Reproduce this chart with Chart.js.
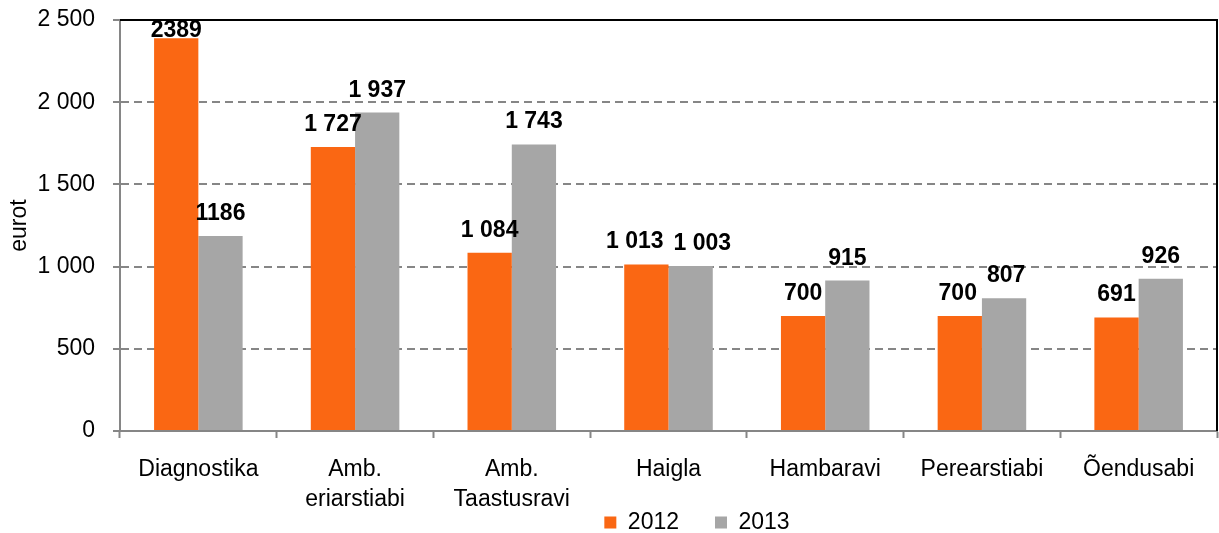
<!DOCTYPE html>
<html><head><meta charset="utf-8">
<script src="https://cdn.jsdelivr.net/npm/chart.js@4/dist/chart.umd.min.js"></script>
<style>html,body{margin:0;padding:0;background:#fff}#wrap{width:1219px;height:533px;position:relative}</style>
</head><body><div id="wrap"><canvas id="c" width="1219" height="533"></canvas></div>
<script>
const categories = ['Diagnostika', ['Amb.', 'eriarstiabi'], ['Amb.', 'Taastusravi'], 'Haigla', 'Hambaravi', 'Perearstiabi', 'Õendusabi'];
const seriesNames = ['2012', '2013'];
const values2012 = [2389, 1727, 1084, 1013, 700, 700, 691];
const values2013 = [1186, 1937, 1743, 1003, 915, 807, 926];
const labels2012 = ['2389', '1 727', '1 084', '1 013', '700', '700', '691'];
const labels2013 = ['1186', '1 937', '1 743', '1 003', '915', '807', '926'];
const yMin = 0, yMax = 2500, yStep = 500;
const axisTitle = 'eurot';

const FONT = '"Liberation Sans", Arial, sans-serif';
const FS = 23;
const GRAY = '#868686';
const ORANGE = '#FA6713';
const BARGRAY = '#A6A6A6';
const CANVAS_H = 533;
const PAD_BOTTOM = -80;
const PLOT_BOTTOM = 431;
const LEGEND_TEXT_TOP = 511;
const LEGEND_CENTER_X = 697;

function fmt(v) { return String(v).replace(/\B(?=(\d{3})+(?!\d))/g, ' '); }

const dataLabelPlugin = {
  id: 'dataLabels',
  afterDatasetsDraw(chart) {
    const ctx = chart.ctx;
    const area = chart.chartArea;
    const texts = [labels2012, labels2013];
    ctx.save();
    ctx.font = 'bold ' + FS + 'px ' + FONT;
    ctx.fillStyle = '#000';
    ctx.textAlign = 'center';
    ctx.textBaseline = 'alphabetic';
    const n = categories.length;
    for (let i = 0; i < n; i++) {
      const items = [];
      chart.data.datasets.forEach((ds, d) => {
        const el = chart.getDatasetMeta(d).data[i];
        const t = texts[d][i];
        const w = ctx.measureText(t).width;
        const base = Math.max(el.y - 16, area.top + 17);
        items.push({ x: el.x, y: base, w, t });
      });
      if (items.length === 2) {
        const a = items[0], b = items[1];
        if (Math.abs(a.y - b.y) < FS) {
          const overlap = (a.x + a.w / 2 + 10) - (b.x - b.w / 2);
          if (overlap > 0) { a.x -= overlap / 2; b.x += overlap / 2; }
        }
      }
      items.forEach(it => ctx.fillText(it.t, it.x, it.y));
    }
    ctx.restore();
  }
};

const framePlugin = {
  id: 'frame',
  afterDraw(chart) {
    const a = chart.chartArea;
    const ctx = chart.ctx;
    ctx.save();
    ctx.strokeStyle = '#000';
    ctx.lineWidth = 2;
    ctx.beginPath();
    ctx.moveTo(a.left, a.top);
    ctx.lineTo(a.right, a.top);
    ctx.lineTo(a.right, a.bottom);
    ctx.stroke();
    ctx.restore();
  }
};

const legendPlace = {
  id: 'legendPlace',
  afterLayout(chart) {
    const L = chart.legend;
    if (!L) return;
    const pad = L.options.labels.padding;
    const shift = LEGEND_CENTER_X - (L.left + L.right) / 2;
    L.left += shift; L.right += shift;
    const h = L.bottom - L.top;
    L.top = LEGEND_TEXT_TOP - pad;
    L.bottom = L.top + h;
  }
};

new Chart(document.getElementById('c'), {
  type: 'bar',
  data: {
    labels: categories,
    datasets: [
      { label: seriesNames[0], data: values2012, backgroundColor: ORANGE, categoryPercentage: 0.565, barPercentage: 1.0 },
      { label: seriesNames[1], data: values2013, backgroundColor: BARGRAY, categoryPercentage: 0.565, barPercentage: 1.0 }
    ]
  },
  options: {
    responsive: false,
    devicePixelRatio: 1,
    animation: false,
    layout: { padding: { top: 20, right: 2, left: 0, bottom: PAD_BOTTOM } },
    plugins: {
      tooltip: { enabled: false },
      legend: {
        position: 'bottom',
        labels: {
          font: { family: FONT, size: FS },
          color: '#000',
          boxWidth: 12,
          boxHeight: 12,
          padding: 36
        }
      }
    },
    scales: {
      x: {
        afterFit(scale) {
          const lh = scale.chart.legend ? scale.chart.legend.height : 0;
          scale.height = Math.max(1, CANVAS_H - PAD_BOTTOM - PLOT_BOTTOM - lh);
        },
        grid: { drawOnChartArea: false, drawTicks: true, tickLength: 7, tickColor: GRAY, tickWidth: 2, offset: true },
        border: { display: true, color: GRAY, width: 2 },
        ticks: { color: '#000', font: { family: FONT, size: FS, lineHeight: 1.28 }, padding: 17, maxRotation: 0, autoSkip: false }
      },
      y: {
        min: yMin, max: yMax,
        afterFit(scale) { scale.width = 120; scale.paddingTop = 0; scale.paddingBottom = 0; },
        ticks: { stepSize: yStep, color: '#000', font: { family: FONT, size: FS }, padding: 18, callback: v => fmt(v) },
        grid: {
          color: c => (c.tick && (c.tick.value === yMin || c.tick.value === yMax)) ? 'rgba(0,0,0,0)' : GRAY,
          lineWidth: 2,
          tickColor: GRAY, tickWidth: 2, tickLength: 7
        },
        border: { display: true, color: GRAY, width: 2, dash: [8, 5] },
        title: { display: true, text: axisTitle, color: '#000', font: { family: FONT, size: FS }, padding: { top: 6, bottom: 0 } }
      }
    }
  },
  plugins: [legendPlace, dataLabelPlugin, framePlugin]
});
</script>
</body></html>
